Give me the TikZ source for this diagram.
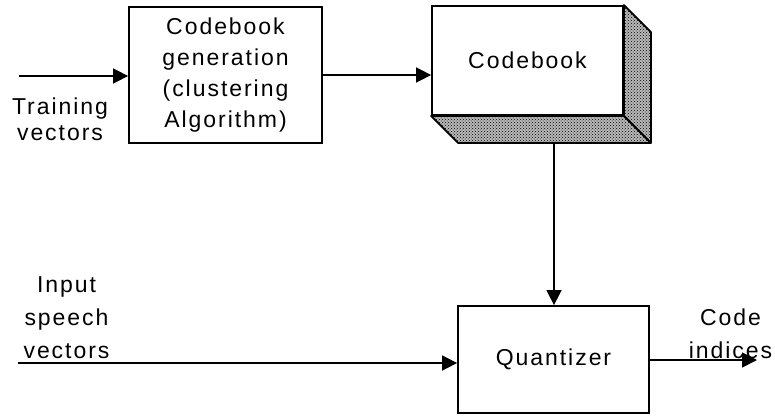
\documentclass[tikz,border=0pt]{standalone}
\usepackage{fontspec}
\setmainfont{Liberation Sans}[LetterSpace=8.5]
\usetikzlibrary{arrows.meta,patterns}
\begin{document}
\begin{tikzpicture}[x=1pt,y=-1pt,
  box/.style={draw,line width=1.8pt,inner sep=0pt,align=center,
    font=\fontsize{23}{31}\selectfont},
  depthface/.style={draw,line width=1.8pt,line join=round,
    preaction={fill=black!28},pattern=crosshatch dots},
  flow/.style={line width=1.6pt,-{Triangle[length=15pt,width=15pt]}},
  lbl/.style={align=center,inner sep=0pt,anchor=base}]
\useasboundingbox (0,0) rectangle (775,415);

% processing blocks
\node[box,minimum width=193pt,minimum height=136pt] (gen) at (225.5,75)
  {Codebook\\generation\\(clustering\\Algorithm)};
\node[box,minimum width=191pt,minimum height=109pt] (cb) at (527.5,60.5) {Codebook};
\node[box,minimum width=191pt,minimum height=107pt] (q) at (553.5,359.5) {Quantizer};

% raised sides of the codebook block
\draw[depthface] (cb.north east) -- ++(27,27) -- ([shift={(27,27)}]cb.south east)
  -- (cb.south east) -- cycle;
\draw[depthface] (cb.south west) -- ++(27,27) -- ([shift={(27,27)}]cb.south east)
  -- (cb.south east) -- cycle;
\coordinate (cbb) at (554,142);

% labels (anchored on the baseline of their last line)
\node[lbl,font=\fontsize{23}{25.5}\selectfont] (tv) at (60,140) {Training\\vectors};
\node[lbl,font=\fontsize{23}{33}\selectfont] (isv) at (66.5,358) {Input\\speech\\vectors};
\node[lbl,font=\fontsize{23}{33}\selectfont] (ci) at (730.5,358) {Code\\indices};

% connectors
\coordinate (tin) at (19,76);
\coordinate (sin) at (18,363);
\coordinate (cout) at (757,360);
\draw[flow] (tin) -- (tin -| gen.west);
\draw[flow] (gen.east) -- (gen.east -| cb.west);
\draw[flow] (cbb) -- (cbb |- q.north);
\draw[flow] (sin) -- (sin -| q.west);
\draw[flow] (cout -| q.east) -- (cout);
\end{tikzpicture}
\end{document}
